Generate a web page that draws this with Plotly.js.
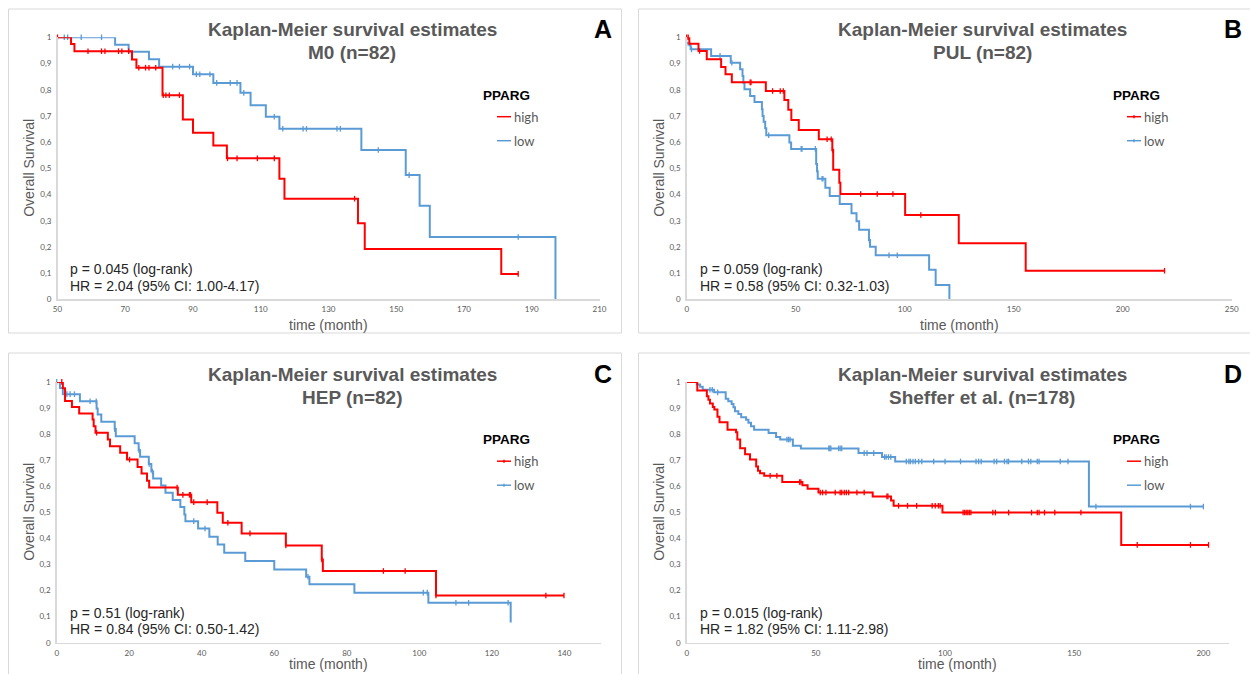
<!DOCTYPE html>
<html>
<head>
<meta charset="utf-8">
<script src="https://cdn.plot.ly/plotly-3.0.1.min.js"></script>
<style>html,body{margin:0;padding:0;background:#fff;}#chart{width:1250px;height:674px;}</style>
</head>
<body>
<div id="chart"></div>
<script>
// ---------------- DATA ----------------
const panelLetters = ['A', 'B', 'C', 'D'];
const titleLine1 = 'Kaplan-Meier survival estimates';
const subTitles = ['M0 (n=82)', 'PUL (n=82)', 'HEP (n=82)', 'Sheffer et al. (n=178)'];
const pTexts = ['p = 0.045 (log-rank)', 'p = 0.059 (log-rank)', 'p = 0.51 (log-rank)', 'p = 0.015 (log-rank)'];
const hrTexts = ['HR = 2.04 (95% CI: 1.00-4.17)', 'HR = 0.58 (95% CI: 0.32-1.03)', 'HR = 0.84 (95% CI: 0.50-1.42)', 'HR = 1.82 (95% CI: 1.11-2.98)'];
const legendTitle = 'PPARG';
const groupNames = ['high', 'low'];
const yTickVals = [0, 0.1, 0.2, 0.3, 0.4, 0.5, 0.6, 0.7, 0.8, 0.9, 1];
const yTickLabels = ['0', '0,1', '0,2', '0,3', '0,4', '0,5', '0,6', '0,7', '0,8', '0,9', '1'];
const xTicksA = [50, 70, 90, 110, 130, 150, 170, 190, 210];
const xTicksB = [0, 50, 100, 150, 200, 250];
const xTicksC = [0, 20, 40, 60, 80, 100, 120, 140];
const xTicksD = [0, 50, 100, 150, 200];
const xRanges = [[50, 210], [0, 250], [0, 150], [0, 210]];

// Panel A (M0)
const aHighT = [50, 54, 55, 72, 73.3, 81, 87, 90, 96, 100, 115.5, 117, 138.7, 140.7, 181, 186];
const aHighS = [1, 0.974, 0.947, 0.915, 0.884, 0.779, 0.686, 0.636, 0.587, 0.538, 0.46, 0.384, 0.29, 0.192, 0.097, 0.097];
const aHighCens = [50, 59, 63, 64, 68, 69, 71, 74, 76, 77, 79, 81.2, 82, 83, 86, 100.2, 103, 109, 114, 137.7, 186];
const aLowT = [50, 67, 71, 77, 80, 90, 96, 104, 107, 111.5, 115.5, 139.7, 152.8, 156.9, 159.9, 197];
const aLowS = [1, 0.972, 0.945, 0.916, 0.888, 0.859, 0.826, 0.788, 0.741, 0.697, 0.651, 0.570, 0.474, 0.357, 0.238, 0];
const aLowCens = [52, 53, 57, 63, 84, 86, 89, 91, 92, 95, 97, 101, 103, 105, 114, 116.5, 122.5, 123.5, 132.5, 133.5, 144.7, 153.8, 186];

// Panel B (PUL)
const bHighT = [0, 1.2, 5.4, 9.2, 15.8, 17.8, 20.7, 36.3, 44.8, 46.6, 48, 51.4, 60.6, 66.8, 67.2, 70, 70.5, 100.2, 124.8, 155.5, 219.2];
const bHighS = [1, 0.975, 0.948, 0.916, 0.887, 0.859, 0.828, 0.795, 0.761, 0.723, 0.684, 0.646, 0.611, 0.570, 0.494, 0.445, 0.402, 0.322, 0.214, 0.109, 0.109];
const bHighCens = [0, 0.7, 5.9, 29.1, 29.5, 39.4, 42.9, 44.3, 64.4, 66.3, 66.9, 79.8, 87.4, 94.6, 107.4, 219.2];
const bLowT = [0, 1.2, 1.8, 11.2, 20.2, 24.5, 25.6, 26, 26.5, 29.1, 31.1, 34.5, 34.8, 35.3, 36, 36.5, 47.1, 47.9, 59.4, 59.8, 60.1, 63.6, 65.6, 70.2, 75.6, 77.9, 79.1, 83.6, 84.1, 86.7, 111.2, 114.2, 120.5];
const bLowS = [0.977, 0.97, 0.954, 0.929, 0.903, 0.878, 0.852, 0.827, 0.802, 0.776, 0.753, 0.725, 0.700, 0.678, 0.653, 0.626, 0.598, 0.574, 0.516, 0.489, 0.460, 0.426, 0.394, 0.364, 0.328, 0.298, 0.265, 0.226, 0.201, 0.168, 0.113, 0.055, 0];
const bLowCens = [0, 2.2, 15.3, 20.7, 37.6, 52.5, 52.9, 59, 62.1, 62.5, 83.8, 92.8, 96.6];

// Panel C (HEP)
const cHighT = [0, 1.7, 2.3, 4.2, 6.2, 9.9, 10.2, 10.7, 14.1, 14.7, 17.5, 19.4, 22.3, 23.4, 24.9, 25.5, 33.4, 37.1, 44.3, 45.8, 51, 63.2, 73.1, 73.4, 104.6, 139.9];
const cHighS = [1, 0.976, 0.927, 0.904, 0.879, 0.856, 0.830, 0.805, 0.779, 0.753, 0.728, 0.702, 0.674, 0.649, 0.621, 0.595, 0.567, 0.539, 0.498, 0.460, 0.419, 0.373, 0.319, 0.275, 0.181, 0.181];
const cHighCens = [1.4, 11, 20.1, 33.2, 34.8, 36.6, 36.9, 37.8, 41.5, 47.2, 53.3, 63.2, 73.1, 90.1, 96.1, 104.6, 134.9, 139.9];
const cLowT = [0, 0.9, 1.7, 6.4, 11, 11.3, 12.3, 16, 16.3, 21.5, 22.6, 23, 25.4, 26.1, 26.6, 28.8, 30, 32, 34.1, 35.2, 35.5, 39, 42.1, 44.4, 46.2, 52, 60, 68.8, 69.7, 82.1, 102.5, 125.2];
const cLowS = [1, 0.977, 0.953, 0.926, 0.898, 0.875, 0.847, 0.819, 0.792, 0.765, 0.738, 0.713, 0.685, 0.656, 0.630, 0.603, 0.575, 0.547, 0.520, 0.492, 0.466, 0.438, 0.406, 0.377, 0.345, 0.313, 0.281, 0.253, 0.224, 0.192, 0.153, 0.077];
const cLowCens = [0, 2.8, 3.7, 4.9, 9.2, 10.9, 16, 22.7, 25.5, 26.4, 37.8, 40.9, 69.3, 101.1, 102.2, 110.1, 113.6, 124.5];

// Panel D (Sheffer et al.)
const dHighT = [0, 4.1, 7.8, 8.4, 9, 10.1, 10.7, 11.9, 12.7, 15.8, 19.1, 19.6, 20.7, 22.6, 24.5, 26.9, 27.6, 28.4, 30, 37, 44.8, 46.8, 51, 72, 79.1, 80.1, 99, 168.2, 202];
const dHighS = [1, 0.967, 0.945, 0.932, 0.917, 0.904, 0.894, 0.866, 0.845, 0.817, 0.807, 0.779, 0.746, 0.723, 0.702, 0.676, 0.659, 0.650, 0.640, 0.616, 0.604, 0.590, 0.576, 0.561, 0.545, 0.525, 0.499, 0.375, 0.375];
const dHighCens = [32.3, 34.9, 43.7, 44.2, 51.7, 52.6, 53.9, 57.5, 59.4, 60, 61, 61.8, 62.7, 65.9, 68.7, 77.5, 77.9, 82, 85.5, 89, 95, 96.2, 97.4, 98.1, 107, 107.6, 108.2, 108.8, 109.4, 110, 118.5, 119.5, 124.6, 133.5, 135.7, 136.4, 138.5, 142.5, 152.6, 174.4, 195, 202];
const dLowT = [0, 3.9, 5.2, 6.2, 10.6, 15.1, 16.1, 17.4, 18.1, 18.7, 20, 21.1, 23, 23.9, 24.9, 26.1, 31.7, 34.6, 36.2, 41.1, 44.2, 66.5, 75.6, 80.7, 155.7, 200];
const dLowS = [1, 0.99, 0.981, 0.97, 0.96, 0.935, 0.926, 0.915, 0.903, 0.887, 0.877, 0.864, 0.855, 0.843, 0.830, 0.817, 0.804, 0.789, 0.779, 0.755, 0.745, 0.727, 0.712, 0.695, 0.522, 0.522];
const dLowCens = [9, 9.9, 12, 38.8, 39.4, 40, 55, 55.4, 55.8, 58.8, 59.4, 60, 68.7, 69.8, 72.4, 76.6, 77.2, 78.1, 79, 85, 86, 86.6, 87.6, 88.5, 89.8, 91, 95.6, 100, 106, 112, 113, 114, 119, 120, 123, 124, 124.6, 129.7, 132.3, 133.2, 135.7, 136.4, 144.6, 147.6, 158.4, 195, 200];

// ---------------- BUILD ----------------
const W = 1250, H = 674;
const RED = '#ff0000', BLUE = '#5b9bd5';
const panels = [
  {high: [aHighT, aHighS, aHighCens], low: [aLowT, aLowS, aLowCens], ticks: xTicksA, dx: 0, dy: 0, xd: [57.5, 599.5], yd: [37.3, 299.3], legMark: false},
  {high: [bHighT, bHighS, bHighCens], low: [bLowT, bLowS, bLowCens], ticks: xTicksB, dx: 630, dy: 0, xd: [686.7, 1231.7], yd: [37.3, 299.3], legMark: true},
  {high: [cHighT, cHighS, cHighCens], low: [cLowT, cLowS, cLowCens], ticks: xTicksC, dx: 0, dy: 344.5, xd: [56.7, 600.6], yd: [381.9, 642.7], legMark: true},
  {high: [dHighT, dHighS, dHighCens], low: [dLowT, dLowS, dLowCens], ticks: xTicksD, dx: 630, dy: 344.5, xd: [686.7, 1229.2], yd: [381.9, 642.7], legMark: false}
];

function stepAt(T, S, t) {
  let v = S[0];
  for (let i = 0; i < T.length; i++) { if (T[i] <= t) v = S[i]; }
  return v;
}
const px = x => x / W;
const py = y => 1 - y / H;

const traces = [];
const layout = {
  width: W, height: H,
  margin: {l: 0, r: 0, t: 0, b: 0},
  paper_bgcolor: '#ffffff', plot_bgcolor: 'rgba(0,0,0,0)',
  showlegend: false,
  annotations: [], shapes: []
};
const tickFont = {family: 'Lato, Liberation Sans, sans-serif', size: 8, color: '#595959'};

panels.forEach((p, i) => {
  const k = i === 0 ? '' : String(i + 1);
  const xa = 'x' + k, ya = 'y' + k;
  layout['xaxis' + k] = {
    domain: [px(p.xd[0]), px(p.xd[1])], anchor: ya, range: xRanges[i],
    showgrid: false, zeroline: false, showline: true, linecolor: '#d9d9d9', linewidth: 1.5,
    ticks: '', tickvals: p.ticks, ticktext: p.ticks.map(String), tickfont: tickFont, fixedrange: true,
    ticklabelstandoff: 2
  };
  layout['yaxis' + k] = {
    domain: [py(p.yd[1]), py(p.yd[0])], anchor: xa, range: [0, 1],
    showgrid: false, zeroline: false, showline: true, linecolor: '#d9d9d9', linewidth: 1.5,
    ticks: '', tickvals: yTickVals, ticktext: yTickLabels, tickfont: tickFont, fixedrange: true,
    ticklabelstandoff: 3
  };
  const groups = [[p.low, BLUE, groupNames[1]], [p.high, RED, groupNames[0]]];
  groups.forEach(([g, col, name]) => {
    const [T, S, C] = g;
    traces.push({type: 'scatter', mode: 'lines', x: T, y: S, xaxis: xa, yaxis: ya, name: name,
      line: {color: col, width: 2, shape: 'hv'}, cliponaxis: false, hoverinfo: 'skip'});
    traces.push({type: 'scatter', mode: 'markers', x: C, y: C.map(t => stepAt(T, S, t)), xaxis: xa, yaxis: ya, name: name + ' censored',
      marker: {symbol: 'line-ns-open', size: 4, color: col, line: {color: col, width: 1.3}}, cliponaxis: false, hoverinfo: 'skip'});
  });

  const dx = p.dx, dy = p.dy;
  // panel frame
  layout.shapes.push({type: 'rect', xref: 'paper', yref: 'paper',
    x0: px(8.5 + dx), x1: px(dx ? 1252 : 621.5), y0: py(9 + (dy ? 344 : 0)), y1: py(dy ? 676 : 333),
    line: {color: '#d9d9d9', width: 1}, fillcolor: 'rgba(0,0,0,0)', layer: 'below'});
  const ann = (x, y, text, font, xanchor, extra) => layout.annotations.push(Object.assign({
    xref: 'paper', yref: 'paper', x: px(x), y: py(y), text: text, showarrow: false,
    xanchor: xanchor || 'center', yanchor: 'middle', font: font}, extra || {}));
  const titleFont = {family: 'Liberation Sans, Arial, sans-serif', size: 19, color: '#595959', weight: 'bold'};
  ann(352 + dx, 30 + dy, titleLine1, titleFont);
  ann(352 + dx, 52.5 + dy, subTitles[i], titleFont);
  ann(603 + dx, 29 + dy, panelLetters[i], {family: 'Liberation Sans, Arial, sans-serif', size: 25, color: '#000000', weight: 'bold'});
  ann(481 + dx, 95 + dy, legendTitle, {family: 'Liberation Sans, Arial, sans-serif', size: 13.5, color: '#000000', weight: 'bold'}, 'left');
  const legFont = {family: 'Lato, Liberation Sans, sans-serif', size: 13, color: '#595959'};
  [[groupNames[0], RED, 116.7], [groupNames[1], BLUE, 140.7]].forEach(([nm, col, yy]) => {
    layout.shapes.push({type: 'line', xref: 'paper', yref: 'paper', x0: px(497 + dx), x1: px(511 + dx), y0: py(yy + dy), y1: py(yy + dy), line: {color: col, width: 1.5}});
    if (p.legMark) layout.shapes.push({type: 'line', xref: 'paper', yref: 'paper', x0: px(504 + dx), x1: px(504 + dx), y0: py(yy + dy - 1.5), y1: py(yy + dy + 1.5), line: {color: col, width: 1.5}});
    ann(511.5 + dx, yy + dy, nm, legFont, 'left');
  });
  const statFont = {family: 'Liberation Sans, Arial, sans-serif', size: 14, color: '#262626'};
  ann(67.5 + dx, 269.3 + dy - (dy ? 1 : 0), pTexts[i], statFont, 'left');
  ann(67.5 + dx, 285.7 + dy - (dy ? 1 : 0), hrTexts[i], statFont, 'left');
  const axTitleFont = {family: 'Liberation Sans, Arial, sans-serif', size: 14, color: '#595959'};
  ann(29 + dx, (p.yd[0] + p.yd[1]) / 2 - 0.5, 'Overall Survival', axTitleFont, 'center', {textangle: -90});
  ann((p.xd[0] + p.xd[1]) / 2, dy ? 664 : 325, 'time (month)', axTitleFont);
});

Plotly.newPlot('chart', traces, layout, {displayModeBar: false, staticPlot: true});
</script>
</body>
</html>
